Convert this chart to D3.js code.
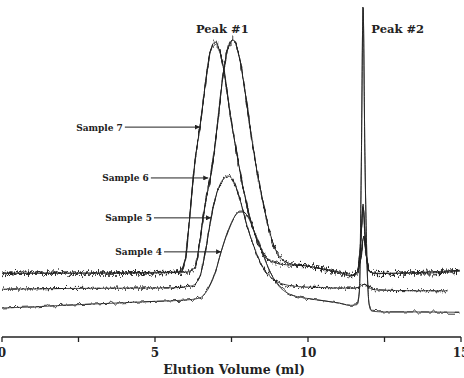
<!DOCTYPE html>
<html>
<head>
<meta charset="utf-8">
<script src="https://cdn.jsdelivr.net/npm/d3@7"></script>
<style>
  body { margin: 0; background: #fff; }
  text { font-family: "DejaVu Serif", "Liberation Serif", serif; font-weight: bold; fill: #222; }
</style>
</head>
<body>
<div id="app"></div>
<script>
const W = 464, H = 378;

// traces: [elution volume (ml), absorbance (arbitrary units, offset baselines)]
const sample7 = [[0,19.4],[2,19.3],[4,19.5],[5.5,19.6],[5.85,20],[6.0,24],[6.1,33],[6.31,53.6],[6.47,63.6],[6.65,77],[6.8,86],[6.96,89.4],[7.1,87],[7.25,80.9],[7.45,68],[7.71,53.6],[8.0,40],[8.33,29.4],[8.6,24.5],[9.0,22.3],[9.4,21.8],[9.9,21.6],[10.4,20.8],[11.0,19.8],[11.4,18.7],[11.6,19.5],[11.72,28],[11.8,39.4],[11.88,28],[12.0,20],[12.2,19.2],[13,19.3],[14,19.4],[14.95,19.9]];
const sample6 = [[0,19.2],[2,19.4],[4,19.3],[6.0,19.6],[6.3,21],[6.45,28],[6.6,38],[6.9,53.6],[7.03,63.6],[7.25,80.9],[7.42,88.5],[7.55,90],[7.7,87],[7.9,77],[8.1,64],[8.27,53.6],[8.55,40],[8.82,29.4],[9.1,24],[9.5,22],[10.0,21.5],[10.5,20.5],[11.0,19.5],[11.4,18.5],[11.62,19.8],[11.74,25],[11.82,30.3],[11.9,25],[12.0,19.8],[12.3,19.3],[13.5,19.5],[14.95,20.2]];
const sample5 = [[0,14.5],[2,14.7],[4,14.8],[5.5,14.9],[6.2,15.5],[6.45,18],[6.65,26],[6.83,36],[7.0,43],[7.2,47.5],[7.39,48.8],[7.55,47.5],[7.75,42.5],[8.0,34],[8.25,27],[8.5,21.5],[8.8,18],[9.2,16],[9.8,15.2],[10.5,15.0],[11.2,14.8],[11.6,14.9],[11.75,15.6],[11.85,16.0],[11.95,15.3],[12.2,14.3],[13.5,14.0],[14.57,14.0]];
const sample4 = [[0,8.8],[1,9.1],[2,9.6],[3,10.0],[4,10.4],[5,10.8],[6,11.2],[6.45,11.8],[6.7,14],[6.95,19],[7.16,25.8],[7.4,32.5],[7.6,36.5],[7.81,38.2],[8.0,37],[8.2,33],[8.45,27],[8.7,21],[9.0,16],[9.4,13],[9.9,11.8],[10.5,11.0],[11.0,10.3],[11.4,9.6],[11.6,9.8],[11.68,14],[11.74,50],[11.8,100],[11.86,55],[11.93,22],[12.0,10],[12.1,7.8],[12.5,7.6],[13.5,7.6],[14.95,7.5]];

// label, arrow tip (ml, value), text right end (ml)
const sampleLabels = [
  ["Sample 7", 6.47, 63.6, 3.95],
  ["Sample 6", 6.74, 48.2, 4.8],
  ["Sample 5", 6.83, 36.1, 4.9],
  ["Sample 4", 7.16, 25.8, 5.23]
];
const peakLabels = [["Peak #1", 7.2, "middle"], ["Peak #2", 12.07, "start"]];
const xTicks = [0, 5, 10, 15];
const xMinorTicks = [2.5, 7.5, 12.5];

const x = d3.scaleLinear([0, 15], [2, 461]);
const y = d3.scaleLinear([0, 100], [337, 7]);

const svg = d3.select("#app").append("svg")
    .attr("width", W)
    .attr("height", H);

const defs = svg.append("defs");
defs.append("marker")
    .attr("id", "arrow")
    .attr("viewBox", "0 0 10 10")
    .attr("refX", 10).attr("refY", 5)
    .attr("markerWidth", 7).attr("markerHeight", 5)
    .attr("markerUnits", "userSpaceOnUse")
    .attr("orient", "auto")
    .append("path").attr("d", "M0,0L10,5L0,10z").attr("fill", "#222");

// noise filters: only vertical jitter (R held at 0.5)
function noiseFilter(id, freq, scale, seed, octaves) {
  const f = defs.append("filter")
      .attr("id", id)
      .attr("filterUnits", "userSpaceOnUse")
      .attr("x", 0).attr("y", 0).attr("width", W).attr("height", H)
      .attr("color-interpolation-filters", "sRGB");
  f.append("feTurbulence").attr("type", "fractalNoise")
      .attr("baseFrequency", freq).attr("numOctaves", octaves).attr("seed", seed).attr("result", "t");
  f.append("feColorMatrix").attr("in", "t").attr("type", "matrix")
      .attr("values", "0 0 0 0 0.5  0 1 0 0 0  0 0 0 0 0  0 0 0 0 1").attr("result", "m");
  f.append("feDisplacementMap").attr("in", "SourceGraphic").attr("in2", "m")
      .attr("scale", scale).attr("xChannelSelector", "R").attr("yChannelSelector", "G");
}
noiseFilter("noiseA", "0.6 0.1", 14, 3, 2);
noiseFilter("noiseB", "0.6 0.1", 14, 21, 2);
noiseFilter("noiseMid", "0.6 0.1", 8, 7, 2);
noiseFilter("noiseWave", "0.22 0.03", 8, 11, 1);

const line = d3.line().x(d => x(d[0])).y(d => y(d[1])).curve(d3.curveMonotoneX);

// [data, filters, width]
const traces = [
  [sample7, ["noiseA", "noiseB"], 1.0],
  [sample6, ["noiseB", "noiseA"], 1.0],
  [sample5, ["noiseMid"], 1.1],
  [sample4, ["noiseWave"], 0.9]
];

const layers = [];
traces.forEach(t => {
  layers.push({ data: t[0], filter: null, width: 0.8 });
  t[1].forEach(f => layers.push({ data: t[0], filter: f, width: t[2] }));
});

svg.append("g").selectAll("path")
  .data(layers)
  .join("path")
    .attr("d", d => line(d.data))
    .attr("fill", "none")
    .attr("stroke", "#222")
    .attr("stroke-width", d => d.width)
    .attr("filter", d => d.filter ? `url(#${d.filter})` : null);

// x axis
const axis = svg.append("g").attr("transform", `translate(0,${y(0)})`);
axis.append("line").attr("x1", x(0)).attr("x2", x(15)).attr("stroke", "#222").attr("stroke-width", 1.5);
axis.selectAll(".tick")
  .data(xTicks.concat(xMinorTicks))
  .join("line")
    .attr("x1", d => x(d)).attr("x2", d => x(d))
    .attr("y1", 0).attr("y2", 5)
    .attr("stroke", "#222").attr("stroke-width", 1.3);
axis.selectAll(".lbl")
  .data(xTicks)
  .join("text")
    .attr("x", d => x(d)).attr("y", 20)
    .attr("text-anchor", "middle")
    .attr("font-size", 12)
    .text(d => d);
svg.append("text")
    .attr("x", 234).attr("y", 374)
    .attr("text-anchor", "middle")
    .attr("font-size", 12.5)
    .text("Elution Volume (ml)");

// peak labels
svg.selectAll(".peak")
  .data(peakLabels)
  .join("text")
    .attr("x", d => x(d[1])).attr("y", 33)
    .attr("text-anchor", d => d[2])
    .attr("font-size", 11.5)
    .text(d => d[0]);

// sample labels with arrows
const ann = svg.append("g").selectAll("g").data(sampleLabels).join("g");
ann.append("text")
    .attr("x", d => x(d[3])).attr("y", d => y(d[2]) + 3.5)
    .attr("text-anchor", "end")
    .attr("font-size", 9)
    .text(d => d[0]);
ann.append("line")
    .attr("x1", d => x(d[3]) + 2).attr("x2", d => x(d[1]))
    .attr("y1", d => y(d[2])).attr("y2", d => y(d[2]))
    .attr("stroke", "#222").attr("stroke-width", 1)
    .attr("marker-end", "url(#arrow)");
</script>
</body>
</html>
